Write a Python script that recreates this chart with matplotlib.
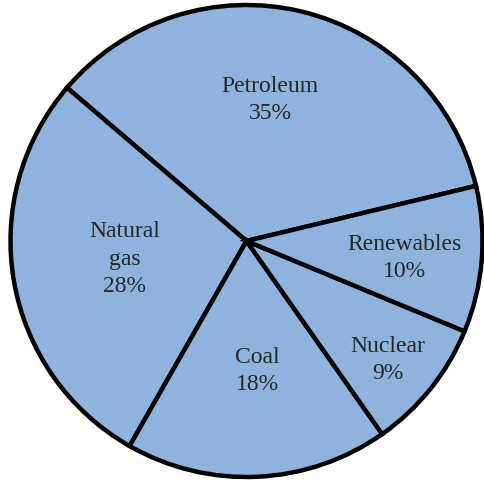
import matplotlib
matplotlib.use("Agg")
import matplotlib.pyplot as plt

categories = ["Petroleum", "Natural\ngas", "Coal", "Nuclear", "Renewables"]
shares = [35, 28, 18, 9, 10]

W, H = 484, 487
fig = plt.figure(figsize=(W / 100, H / 100), dpi=100)
ax = fig.add_axes([0, 0, 1, 1])

cx, cy, r = 246.5, H - 241, 236
ax.pie(shares, startangle=13.5, counterclock=True, center=(cx, cy), radius=r,
       colors=["#8eb4dd"] * len(shares),
       wedgeprops=dict(edgecolor="black", linewidth=3.2, joinstyle="miter"),
       frame=True)
ax.set_xlim(0, W)
ax.set_ylim(0, H)
ax.axis("off")

# label centres in image pixel coordinates (x, y from top)
label_pos = [(270, 100), (125, 259), (257, 371), (388, 360), (404, 258)]
for name, val, (x, y) in zip(categories, shares, label_pos):
    ax.text(x, H - y, f"{name}\n{val}%", ha="center", va="center",
            fontsize=17, family="Liberation Serif", color="#262626",
            linespacing=1.42)

fig.savefig("out.png", dpi=100)
